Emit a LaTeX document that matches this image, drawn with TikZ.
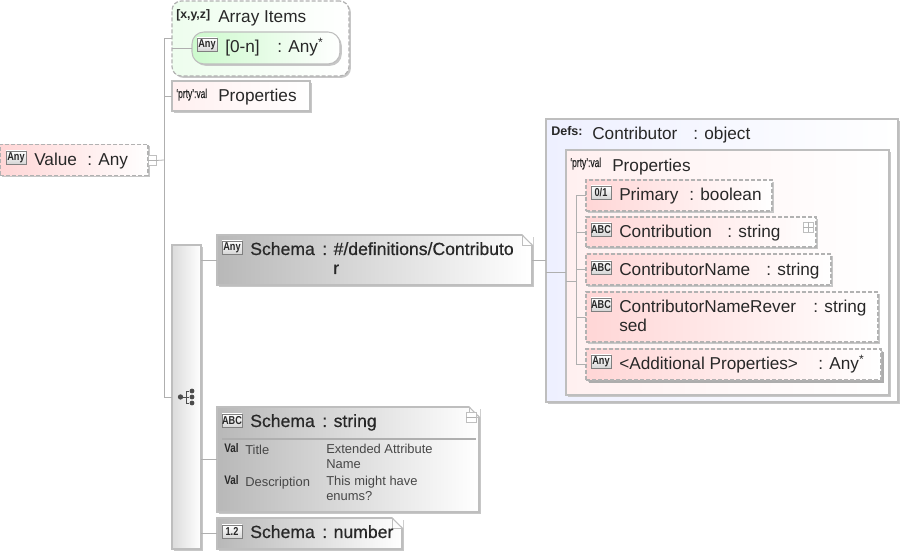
\documentclass[tikz,border=0pt]{standalone}
\usepackage{fontspec}
\setmainfont{Liberation Sans}
\newfontfamily\semifont[FakeBold=0.5]{Liberation Sans}
\newfontfamily\tagfont[FakeStretch=0.8]{Liberation Sans}
\newfontfamily\narrowfont[FakeStretch=0.66,FakeBold=0.5]{Liberation Sans}
\usetikzlibrary{shadows,calc}
\definecolor{linegray}{RGB}{175,175,175}
\definecolor{edgegray}{RGB}{190,190,190}
\definecolor{inkgray}{RGB}{40,40,40}
\definecolor{valred}{RGB}{255,214,214}
\definecolor{palered}{RGB}{255,240,240}
\definecolor{valgreen}{RGB}{205,250,205}
\definecolor{paleblue}{RGB}{238,240,255}
\definecolor{notegray}{RGB}{184,184,184}
\tikzset{
  boxsize/.style 2 args={anchor=north west,inner sep=0pt,outer sep=0pt,minimum width=#1*0.75pt,minimum height=#2*0.75pt},
  softshadow/.style={drop shadow={shadow xshift=1.4pt,shadow yshift=-1.4pt,fill=black!22,opacity=1}},
  solidbox/.style={draw=edgegray,line width=0.8pt,softshadow},
  dashbox/.style={draw=black!30,line width=0.9pt,dash pattern=on 3pt off 1.5pt,softshadow},
  redbox/.style={dashbox,left color=valred,right color=white},
  notebox/.style={solidbox,left color=notegray,right color=white},
  badge/.style={boxsize={#1}{13},draw=black!50,line width=0.5pt,top color=white,bottom color=black!16,text=inkgray,font=\tagfont\bfseries\fontsize{8.6}{9}\selectfont},
  badge/.default=20,
  tagtext/.style={anchor=base west,inner sep=0pt,text=inkgray,font=\tagfont\bfseries\fontsize{9.3}{10}\selectfont},
  nametext/.style={anchor=base west,inner sep=0pt,yshift=-0.6pt,text=inkgray,font=\fontsize{12.9}{14}\selectfont},
  schematext/.style={anchor=base west,inner sep=0pt,text=inkgray,font=\semifont\fontsize{13.2}{15}\selectfont},
  smalltext/.style={anchor=base west,inner sep=0pt,text=black!72,font=\fontsize{9.7}{11}\selectfont},
  toggle/.style={boxsize={10}{10},draw=black!25,line width=0.4pt,fill=white},
  wire/.style={draw=linegray,line width=0.6pt},
}
\newcommand{\foldcorner}[1]{%
  \fill[white] ($(#1.north east)+(-10,-1)$) -- ($(#1.north east)+(1,-1)$) -- ($(#1.north east)+(1,10)$) -- cycle;
  \draw[edgegray,line width=0.8pt] ($(#1.north east)+(-10,0)$) -- ($(#1.north east)+(0,10)$);
  \draw[edgegray,line width=0.4pt] ($(#1.north east)+(-10,0)$) -- ($(#1.north east)+(-10,10)$) -- ($(#1.north east)+(0,10)$);
}
\begin{document}
\begin{tikzpicture}[x=0.75pt,y=-0.75pt]
  \useasboundingbox (0,0) rectangle (904,555);
  % Root
  \node[boxsize={148}{31},redbox] (value) at (0,144.5) {};
  \node[badge] (valueicon) at (6,151) {Any};
  \node[nametext] (valuetext) at (34,165) {Value};
  \node[nametext] (valuetype) at (87,165) {: Any};
  \node[toggle,minimum width=8*0.75pt] (valuetoggle) at (148,155.5) {};
  \draw[black!30,line width=0.4pt] (valuetoggle.west) -- (valuetoggle.east);
  % Array items
  \node[boxsize={177}{75},dashbox,rounded corners=7pt,left color=valgreen!35,right color=white] (items) at (172,1) {};
  \node[tagtext,font=\bfseries\fontsize{9.2}{10}\selectfont] (itemstag) at (176,19) {[x,y,z]};
  \node[nametext] (itemstext) at (218,21.5) {Array Items};
  \node[boxsize={148}{32},solidbox,rounded corners=9pt,left color=valgreen,right color=white] (itemany) at (192,32) {};
  \node[badge] (itemicon) at (197,38) {Any};
  \node[nametext] (itemtext) at (225,52) {[0-n]};
  \node[nametext] (itemtype) at (277,52) {: Any\textsuperscript{*}};
  % Properties
  \node[boxsize={138}{30},solidbox,left color=palered,right color=white] (props) at (172,81) {};
  \node[tagtext,font=\narrowfont\fontsize{9.6}{10}\selectfont] (propstag) at (176,98) {‘prty’:val};
  \node[nametext] (propstext) at (218,101) {Properties};
  % Choice bar
  \node[boxsize={29}{304},solidbox,left color=black!14,right color=white] (choice) at (172,245) {};
  \node[circle,fill=black!70,inner sep=0pt,minimum size=4pt] (choiceroot) at (180.5,397) {};
  \node[circle,fill=black!70,inner sep=0pt,minimum size=3.6pt] (choicea) at (192,391) {};
  \node[circle,fill=black!70,inner sep=0pt,minimum size=3.6pt] (choiceb) at (192,397) {};
  \node[circle,fill=black!70,inner sep=0pt,minimum size=3.6pt] (choicec) at (192,403) {};
  \draw[black!70,line width=0.5pt] (choiceroot) -- (choiceb) (choicea) -- (186.5,391) -- (186.5,403) -- (choicec);
  % Schema notes
  \node[boxsize={315}{50},notebox] (schemaref) at (217,235) {};
  \foldcorner{schemaref}
  \node[badge] (schemarefname) at (222,241) {Any};
  \node[schematext] (schemareftext) at (250,255) {Schema};
  \node[schematext] (schemareftype) at (322,255) {: \#/definitions/Contributo};
  \node[schematext] (schemarefwrap) at (333,274) {r};
  \node[boxsize={262}{105},notebox] (schemastr) at (217,407) {};
  \foldcorner{schemastr}
  \node[badge] (schemastricon) at (222,414) {ABC};
  \node[schematext] (schemastrtext) at (250,427) {Schema};
  \node[schematext] (schemastrtype) at (322,427) {: string};
  \node[toggle] (strtoggle) at (466,412) {};
  \draw[black!30,line width=0.4pt] (strtoggle.west) -- (strtoggle.east);
  \coordinate (ruleleft) at (222,439);
  \coordinate (ruleright) at (476,439);
  \draw[linegray,line width=1pt] (ruleleft) -- (ruleright);
  \node[tagtext] (titletag) at (224,453) {Val};
  \node[smalltext] (titletext) at (245,455) {Title};
  \node[smalltext] (titleval) at (326,454) {Extended Attribute};
  \node[smalltext] (titlevalb) at (326,469) {Name};
  \node[tagtext] (desctag) at (224,485) {Val};
  \node[smalltext] (desctext) at (245,487) {Description};
  \node[smalltext] (descval) at (326,486) {This might have};
  \node[smalltext] (descvalb) at (326,501) {enums?};
  \node[boxsize={185}{31},notebox] (schemanum) at (217,518) {};
  \foldcorner{schemanum}
  \node[badge] (schemanumicon) at (222,525) {1.2};
  \node[schematext] (schemanumtext) at (250,538) {Schema};
  \node[schematext] (schemanumtype) at (322,538) {: number};
  % Definition
  \node[boxsize={352}{283},solidbox,left color=paleblue,right color=white] (defs) at (546,119) {};
  \node[tagtext,font=\bfseries\fontsize{9.4}{10}\selectfont] (defstag) at (551,136) {Defs:};
  \node[nametext] (defstext) at (592,139) {Contributor};
  \node[nametext] (defstype) at (693,139) {: object};
  \node[boxsize={323}{245},solidbox,left color=palered,right color=white] (defprops) at (566,150) {};
  \node[tagtext,font=\narrowfont\fontsize{9.6}{10}\selectfont] (defpropstag) at (570,167) {‘prty’:val};
  \node[nametext] (defpropstext) at (612,170.5) {Properties};
  % Definition members
  \node[boxsize={186}{31},redbox] (primary) at (586,180) {};
  \node[badge] (primaryicon) at (591,186) {0/1};
  \node[nametext] (primarytext) at (619,200) {Primary};
  \node[nametext] (primarytype) at (689,200) {: boolean};
  \node[boxsize={230}{30},redbox] (contrib) at (586,217) {};
  \node[badge] (contribicon) at (591,223) {ABC};
  \node[nametext] (contribtext) at (619,237) {Contribution};
  \node[nametext] (contribtype) at (727,237) {: string};
  \node[toggle] (contribtoggle) at (803,222) {};
  \draw[black!30,line width=0.4pt] (contribtoggle.west) -- (contribtoggle.east) (contribtoggle.north) -- (contribtoggle.south);
  \node[boxsize={245}{31},redbox] (cname) at (586,254) {};
  \node[badge] (cnameicon) at (591,261) {ABC};
  \node[nametext] (cnametext) at (619,275) {ContributorName};
  \node[nametext] (cnametype) at (766,275) {: string};
  \node[boxsize={292}{50},redbox] (cnamerev) at (586,292) {};
  \node[badge] (cnamerevicon) at (591,298) {ABC};
  \node[nametext] (cnamerevtext) at (619,312) {ContributorNameRever};
  \node[nametext] (cnamerevwrap) at (619,331) {sed};
  \node[nametext] (cnamerevtype) at (813,312) {: string};
  \node[boxsize={295}{31},redbox,drop shadow={shadow xshift=2pt,shadow yshift=-2pt,fill=black!32,opacity=1}] (addprops) at (586,349) {};
  \node[badge] (addpropsicon) at (591,355) {Any};
  \node[nametext] (addpropstext) at (619,369) {<Additional Properties>};
  \node[nametext] (addpropstype) at (818,369) {: Any\textsuperscript{*}};
  % Connectors
  \coordinate (trunk) at (164,160);
  \coordinate (memberbus) at (576,281.5);
  \draw[wire] (valuetoggle.east) -- (trunk);
  \draw[wire] (trunk) |- (items.west) (trunk) |- (props.west) (trunk) |- (choice.west);
  \draw[wire] (itemany.west) -- (itemany.west -| items.west);
  \draw[wire] (schemaref.west -| choice.east) -- (schemaref.west);
  \draw[wire] (schemastr.west -| choice.east) -- (schemastr.west);
  \draw[wire] (schemanum.west -| choice.east) -- (schemanum.west);
  \draw[wire] (schemaref.east) -- (schemaref.east -| defs.west);
  \draw[wire] (defprops.west -| defs.west) -- (defprops.west);
  \draw[wire] (defprops.west |- memberbus) -- (memberbus);
  \draw[wire] (memberbus) |- (primary.west) (memberbus) |- (contrib.west) (memberbus) |- (cname.west) (memberbus) |- (cnamerev.west) (memberbus) |- (addprops.west);
\end{tikzpicture}
\end{document}
